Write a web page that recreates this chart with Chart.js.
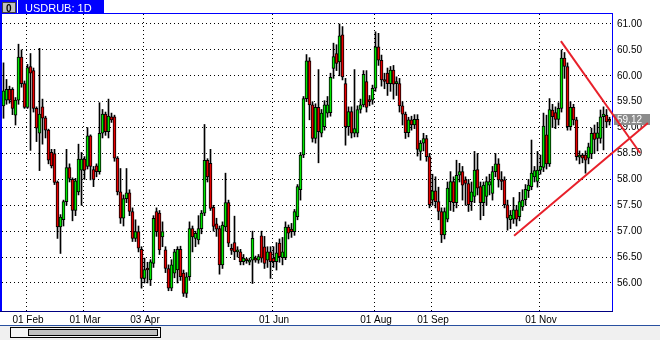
<!DOCTYPE html>
<html>
<head>
<meta charset="utf-8">
<script src="https://cdn.jsdelivr.net/npm/chart.js@4.4.0/dist/chart.umd.min.js"></script>
<style>
  html, body { margin: 0; padding: 0; background: #fff; }
  canvas { display: block; }
</style>
</head>
<body>
<canvas id="myChart" width="660" height="340"></canvas>
<script>
// USDRUB daily candles
const opens = [
  59.42,59.53,59.74,59.74,59.24,59.53,60.36,59.85,59.39,60.18,
  60.10,59.37,58.89,59.40,59.19,58.95,58.52,58.50,57.95,57.08,
  57.22,57.57,58.23,58.00,57.40,57.76,58.18,58.39,58.25,58.84,
  58.19,58.26,58.15,58.89,59.26,58.92,59.21,59.21,58.41,57.76,
  57.25,57.63,57.74,57.38,56.86,56.99,56.65,56.09,56.28,56.06,
  56.38,57.38,57.35,56.89,56.64,56.28,55.90,56.19,56.25,56.65,
  56.19,55.80,56.12,57.05,56.86,56.83,57.05,57.35,58.37,
  58.31,57.46,57.14,57.05,56.35,57.08,57.55,56.64,56.78,56.60,
  56.60,56.41,56.44,56.40,56.44,56.48,56.44,56.91,56.70,56.44,
  56.60,56.48,56.41,56.77,56.49,56.49,57.08,57.04,56.99,57.28,
  57.80,58.47,59.56,60.29,59.44,58.79,59.39,58.89,59.02,59.28,
  59.29,60.14,60.43,60.27,60.79,59.85,59.02,59.31,58.89,58.89,
  59.35,59.44,59.89,59.53,59.53,59.76,60.56,60.30,59.92,60.05,
  59.85,60.11,59.85,59.85,59.42,59.26,58.90,59.15,59.05,
  59.16,58.54,58.70,58.79,58.44,57.60,57.78,57.57,57.38,56.93,
  57.23,57.57,57.96,57.55,58.08,58.15,57.99,57.92,57.57,57.67,
  58.19,57.86,57.55,57.67,57.89,57.73,58.15,58.30,57.99,57.99,
  57.51,57.22,57.23,57.41,57.28,57.47,57.61,57.78,57.86,58.05,
  57.96,58.18,58.23,58.86,58.30,59.34,59.29,59.16,59.37,60.34,
  60.18,59.02,59.39,59.15,58.43,58.47,58.47,58.41,58.49,58.90,
  58.79,58.79,59.21,59.24,59.15
];
const highs = [
  60.25,59.93,59.80,59.77,59.58,60.61,60.50,59.90,60.22,60.43,
  60.15,59.40,60.53,59.55,59.22,58.97,58.58,58.58,57.97,57.32,
  57.60,58.58,58.30,58.03,58.02,58.68,58.52,58.44,59.00,58.86,
  58.25,58.30,59.48,59.35,59.30,59.55,59.28,59.24,58.44,58.21,
  57.70,58.21,57.80,57.45,57.22,57.10,56.70,56.48,56.40,56.45,
  57.30,57.45,57.40,57.18,56.70,56.35,56.45,56.65,56.70,56.71,
  56.25,56.20,57.18,57.10,57.00,57.30,57.40,59.06,58.40,
  58.58,57.50,57.25,57.10,57.18,58.12,57.60,56.75,57.29,56.70,
  56.65,56.55,56.48,56.48,57.00,56.52,56.55,57.00,56.90,56.70,
  56.70,56.70,56.78,56.85,56.88,57.18,57.12,57.15,57.42,57.90,
  58.52,59.60,60.41,60.35,59.50,59.46,60.12,59.35,59.52,59.60,
  60.05,60.63,60.60,61.00,60.95,59.95,59.40,59.40,60.12,59.42,
  59.55,60.10,60.10,59.62,59.82,60.85,60.82,60.40,60.05,60.15,
  60.18,60.20,59.98,59.95,59.50,59.30,59.20,59.22,59.25,
  59.25,58.75,58.89,58.85,58.50,58.10,58.05,57.85,57.45,57.45,
  57.95,58.15,58.05,58.37,58.31,58.25,58.05,58.00,57.95,58.54,
  58.50,57.95,57.95,58.05,58.10,58.25,58.50,58.40,58.15,58.05,
  57.60,57.40,57.65,57.50,57.75,57.80,57.90,58.00,58.76,58.25,
  58.54,58.47,59.28,59.24,59.56,59.45,59.40,59.48,60.50,60.45,
  60.25,59.50,59.45,59.20,58.55,58.50,58.55,58.70,58.99,59.05,
  59.10,59.34,59.40,59.35,59.20
];
const lows = [
  59.18,59.45,59.47,59.25,59.05,59.45,59.78,59.37,59.37,58.56,
  59.30,58.73,58.17,58.68,58.80,58.30,58.22,57.90,56.86,56.57,
  57.10,57.50,57.95,57.20,57.30,57.70,57.50,58.00,58.20,57.99,
  57.86,58.05,58.10,58.80,58.85,58.80,59.10,58.35,57.70,57.15,
  57.10,57.55,57.30,56.80,56.80,56.60,55.90,56.00,56.00,55.95,
  56.30,56.90,56.55,56.70,56.20,55.85,55.85,56.10,56.00,56.05,
  55.74,55.72,56.05,56.60,56.70,56.75,56.95,57.30,57.95,
  57.40,57.00,56.90,56.17,56.28,57.00,56.70,56.55,56.45,56.50,
  56.35,56.35,56.38,56.35,55.99,56.40,56.38,56.40,56.28,56.30,
  56.09,56.30,56.25,56.40,56.35,56.45,56.85,56.88,56.92,57.22,
  57.60,58.42,59.50,59.15,58.72,58.70,58.32,58.82,58.95,59.20,
  59.22,59.95,60.10,60.00,59.92,58.66,58.85,58.80,58.82,58.82,
  59.28,59.40,59.30,59.42,59.45,59.70,60.20,59.80,59.75,59.62,
  59.70,59.55,59.62,59.30,59.05,58.79,58.82,58.95,58.98,
  58.45,58.37,58.55,58.35,57.45,57.50,57.45,57.22,56.78,56.85,
  57.18,57.40,57.38,57.45,57.95,57.60,57.50,57.38,57.40,57.55,
  57.70,57.22,57.30,57.50,57.70,57.60,58.05,57.85,57.80,57.45,
  57.02,57.05,57.15,57.10,57.20,57.40,57.50,57.65,57.80,57.95,
  57.85,58.10,58.15,58.20,58.25,59.00,58.98,59.05,59.30,59.95,
  58.95,58.95,59.05,58.37,58.30,58.32,58.12,58.30,58.40,58.50,
  58.55,58.70,58.57,59.00,59.05
];
const closes = [
  59.71,59.74,59.53,59.37,59.53,60.36,59.85,59.39,60.16,60.05,
  59.37,58.99,59.26,59.18,58.95,58.37,58.26,57.94,57.08,57.27,
  57.57,58.23,58.02,57.40,57.97,58.39,58.39,58.18,58.84,58.25,
  58.00,58.15,58.89,59.26,58.92,59.22,59.15,58.41,57.76,57.25,
  57.63,57.74,57.38,56.86,56.99,56.67,56.09,56.26,56.25,56.41,
  57.25,56.99,56.64,56.99,56.28,55.90,56.35,56.60,56.65,56.12,
  55.80,56.12,57.05,56.89,56.96,57.05,57.35,58.37,58.05,
  57.44,57.09,57.04,56.35,57.12,57.55,56.77,56.63,56.60,56.64,
  56.41,56.48,56.43,56.44,56.86,56.44,56.51,56.48,56.38,56.60,
  56.41,56.41,56.58,56.51,56.60,57.08,56.96,56.99,57.38,57.86,
  58.47,59.56,60.29,59.44,58.79,59.39,58.92,59.28,59.44,59.44,
  59.97,60.37,60.24,60.77,59.98,59.02,59.31,58.89,58.98,59.35,
  59.44,60.03,59.39,59.50,59.76,60.56,60.30,59.92,59.89,59.85,
  60.11,59.84,59.88,59.42,59.26,58.90,59.15,59.05,59.16,
  58.58,58.70,58.79,58.44,57.51,57.78,57.57,57.38,56.93,57.38,
  57.83,57.96,57.55,58.08,58.15,57.89,57.92,57.51,57.76,58.18,
  57.83,57.55,57.89,57.96,57.96,58.15,58.30,57.99,57.96,57.51,
  57.25,57.31,57.41,57.23,57.57,57.60,57.81,57.89,58.12,58.17,
  58.18,58.25,59.03,58.30,59.35,59.21,59.16,59.37,60.34,60.18,
  59.02,59.39,59.15,58.44,58.47,58.41,58.37,58.63,58.89,58.77,
  58.90,59.21,59.26,59.11,59.12
];

// month ticks: label + index of first candle of that month
const monthLabels = ['01 Feb', '01 Mar', '03 Apr', '01 Jun', '01 Aug', '01 Sep', '01 Nov'];
const monthStart = [8, 27, 47, 90, 124, 143, 179];

const lastPrice = 59.12;

// hand drawn trend lines, [candle index, price]
const trendDown = [[185.8, 60.67], [212.2, 58.51]];
const trendUp = [[170.2, 56.91], [214.8, 59.09]];

const labels = opens.map((o, i) => i);

const upColor = '#00e600';
const downColor = '#e60000';

const frame = {
    id: 'frame',
    beforeDraw(chart) {
        const ctx = chart.ctx;
        ctx.save();
        ctx.fillStyle = '#ffffff';
        ctx.fillRect(0, 0, 660, 340);
        ctx.fillStyle = '#f0f0f0';
        ctx.fillRect(0, 325, 660, 15);
        ctx.restore();
    },
    afterDraw(chart) {
        const ctx = chart.ctx;
        const xs = chart.scales.x;
        const ys = chart.scales.y;
        ctx.save();

        // header
        ctx.fillStyle = '#0000ff';
        ctx.fillRect(0, 0, 104, 14);
        ctx.fillStyle = '#c0c0c0';
        ctx.fillRect(2, 2, 14, 11);
        ctx.strokeStyle = '#404040';
        ctx.lineWidth = 1;
        ctx.strokeRect(2.5, 2.5, 13, 10);
        ctx.fillStyle = '#000';
        ctx.font = 'bold 10px "Liberation Sans", Arial, sans-serif';
        ctx.textBaseline = 'alphabetic';
        ctx.fillText('0', 6, 12);
        ctx.fillStyle = '#ffffff';
        ctx.fillRect(17, 0, 1, 14);
        ctx.font = '11px "Liberation Sans Narrow", "Liberation Sans", Arial, sans-serif';
        ctx.fillText('USDRUB: 1D', 25, 12);

        // plot borders
        ctx.fillStyle = '#0000ff';
        ctx.fillRect(0, 13, 613, 1);
        ctx.fillRect(0, 0, 2, 311);
        ctx.fillRect(612, 13, 1, 298);
        ctx.fillStyle = '#000080';
        ctx.fillRect(0, 311, 613, 1);
        ctx.fillStyle = '#2850a0';
        ctx.fillRect(0, 325, 660, 1);

        // scrollbar
        ctx.fillStyle = '#f4f4f4';
        ctx.fillRect(10, 327, 150, 10);
        ctx.strokeStyle = '#000';
        ctx.strokeRect(10.5, 327.5, 150, 10);
        ctx.fillStyle = '#c0c0c0';
        ctx.fillRect(28, 329, 130, 6);
        ctx.strokeRect(28.5, 329.5, 129, 6);

        // last price tag
        const py = ys.getPixelForValue(lastPrice) - 2;
        ctx.fillStyle = '#8c8c8c';
        ctx.fillRect(614, Math.round(py - 5), 36, 11);
        ctx.fillStyle = '#ffffff';
        ctx.font = '10px "Liberation Sans", Arial, sans-serif';
        ctx.textBaseline = 'middle';
        ctx.fillText(lastPrice.toFixed(2), 617, py + 0.5);

        // trend lines
        ctx.strokeStyle = '#e8202a';
        ctx.lineWidth = 2;
        [trendDown, trendUp].forEach(function (t) {
            ctx.beginPath();
            ctx.moveTo(xs.getPixelForValue(t[0][0]), ys.getPixelForValue(t[0][1]));
            ctx.lineTo(xs.getPixelForValue(t[1][0]), ys.getPixelForValue(t[1][1]));
            ctx.stroke();
        });
        ctx.restore();
    }
};

const data = {
    labels: labels,
    datasets: [{
        label: 'body',
        data: opens.map((o, i) => [o, closes[i]]),
        backgroundColor: (c) => closes[c.dataIndex] >= opens[c.dataIndex] ? upColor : downColor,
        borderColor: '#000',
        borderWidth: 1,
        borderSkipped: false,
        barThickness: 3,
        minBarLength: 2,
        grouped: false,
        order: 0
    }, {
        label: 'wick',
        data: lows.map((l, i) => [l, highs[i]]),
        backgroundColor: '#000',
        borderWidth: 0,
        barThickness: 1,
        grouped: false,
        order: 1
    }]
};

const config = {
    type: 'bar',
    data: data,
    options: {
        responsive: false,
        devicePixelRatio: 1,
        animation: false,
        layout: { padding: { left: 2, top: 14, right: 0, bottom: 0 } },
        plugins: { legend: { display: false }, tooltip: { enabled: false } },
        scales: {
            x: {
                type: 'category',
                offset: true,
                afterBuildTicks: (s) => { s.ticks = monthStart.map(i => ({ value: i - 0.5 })); },
                afterFit: (s) => { s.height = 29; },
                grid: { offset: false, color: '#000', lineWidth: 1, drawTicks: false },
                border: { display: false, dash: [1, 3] },
                ticks: {
                    autoSkip: false,
                    maxRotation: 0,
                    labelOffset: 2,
                    padding: 3,
                    color: '#000',
                    font: { family: '"Liberation Sans", Arial, sans-serif', size: 10 },
                    callback: (v, i) => monthLabels[i]
                }
            },
            y: {
                position: 'right',
                min: 55.459,
                max: 61.193,
                afterFit: (s) => { s.width = 49; },
                grid: { color: '#000', lineWidth: 1, drawTicks: false },
                border: { display: false, dash: [1, 3] },
                ticks: {
                    stepSize: 0.5,
                    includeBounds: false,
                    padding: 6,
                    color: '#000',
                    font: { family: '"Liberation Sans", Arial, sans-serif', size: 10 },
                    callback: (v) => v < 56 ? null : v.toFixed(2)
                }
            }
        }
    },
    plugins: [frame]
};

const myChart = new Chart(document.getElementById('myChart'), config);
</script>
</body>
</html>
